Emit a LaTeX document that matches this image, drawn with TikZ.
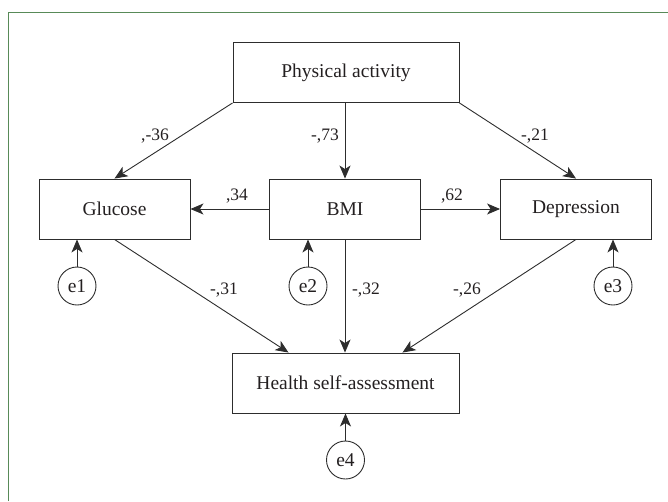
\documentclass[tikz,border=0pt]{standalone}
\usepackage{fontspec}
\setmainfont{Liberation Serif}
\usetikzlibrary{arrows.meta,calc}

\definecolor{framegreen}{RGB}{88,138,88}
\definecolor{boxline}{RGB}{45,45,45}
\definecolor{ink}{RGB}{35,31,32}

\begin{document}
\begin{tikzpicture}[x=1pt,y=-1pt,line width=0.9pt,text=ink]

\tikzset{var/.style = {shape=rectangle,draw=boxline,minimum width=151pt,minimum height=60pt,font=\fontsize{19.5}{22}\selectfont}}
\tikzset{err/.style = {shape=circle,draw=boxline,minimum size=38pt,inner sep=0pt,font=\fontsize{19.5}{22}\selectfont}}
\tikzset{edge/.style = {->,> = {Stealth[length=13pt,width=11pt,inset=3.5pt]},draw=boxline}}
\tikzset{coef/.style = {font=\fontsize{17.5}{20}\selectfont}}

\useasboundingbox (0,0) rectangle (668,501);
\draw[framegreen,line width=1.5pt] (8.5,501) |- (668,12.5);

% variables
\node[var,minimum width=226pt] (pa) at (346,72.5) {Physical activity};
\node[var] (glu) at (114.5,209) {Glucose};
\node[var] (bmi) at (345,209) {BMI};
\node[var] (dep) at (576,209) {Depression};
\node[var,minimum width=227pt] (hsa) at (345.5,383) {Health self-assessment};

% errors
\node[err] (e1) at (77,286) {e1};
\node[err] (e2) at (308,286) {e2};
\node[err] (e3) at (613,286) {e3};
\node[err] (e4) at (345.5,460) {e4};

%edges
\draw[edge] (pa.south west) to (glu.north);
\draw[edge] (pa.south -| bmi) to (bmi.north);
\draw[edge] (pa.south east) to (dep.north);
\draw[edge] (bmi.west) to (glu.east);
\draw[edge] (bmi.east) to (dep.west);
\draw[edge] (glu.south) to ($(hsa.north west)!.25!(hsa.north east)$);
\draw[edge] (bmi.south) to (hsa.north -| bmi);
\draw[edge] (dep.south) to ($(hsa.north west)!.75!(hsa.north east)$);
\draw[edge] (e1) to (e1 |- glu.south);
\draw[edge] (e2) to (e2 |- bmi.south);
\draw[edge] (e3) to (e3 |- dep.south);
\draw[edge] (e4) to (hsa.south);

% coefficients
\node[coef] (c1) at (155,136) {,-36};
\node[coef] (c2) at (325,136) {-,73};
\node[coef] (c3) at (535,136) {-,21};
\node[coef] (c4) at (237,196) {,34};
\node[coef] (c5) at (452,196) {,62};
\node[coef] (c6) at (224,290) {-,31};
\node[coef] (c7) at (366,290) {-,32};
\node[coef] (c8) at (467,290) {-,26};
\end{tikzpicture}
\end{document}
